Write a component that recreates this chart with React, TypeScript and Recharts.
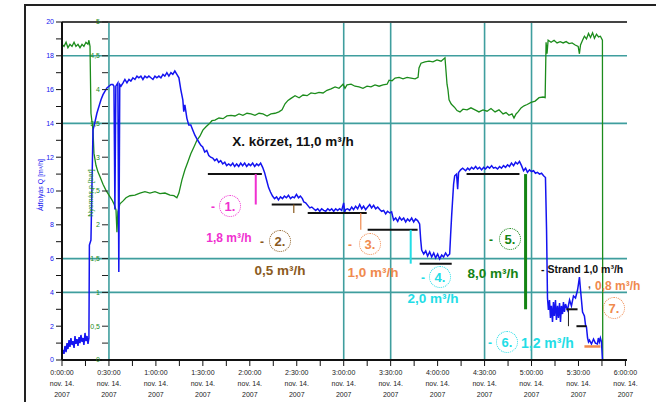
import React from 'react';
import { ComposedChart, Line, XAxis, YAxis, ReferenceLine } from 'recharts';

// átfolyás [perc, m3/h]
const flowPoints: [number, number][] = [
  [0, 0.24], [0.6, 0.59], [1.3, 0.36], [1.9, 0.83], [2.6, 0.47], [3.2, 1.0], [3.8, 0.65], [4.5, 1.18],
  [5.1, 0.77], [5.7, 1.3], [6.4, 0.89], [7.0, 1.12], [7.7, 0.71], [8.3, 1.42], [8.9, 0.95], [9.6, 1.24],
  [10.2, 0.83], [10.9, 1.36], [11.5, 1.0], [12.1, 1.48], [12.8, 1.07], [13.4, 1.3], [14.0, 0.89], [14.7, 1.6],
  [15.3, 1.12], [16.0, 1.42], [16.6, 0.95], [17.2, 1.3],
  [17.5, 6.8], [18.5, 7.1], [19.8, 13.6], [21.1, 14.1], [22.3, 14.6], [23.6, 15.0], [24.9, 15.4], [26.2, 15.7],
  [27.4, 15.9], [28.7, 16.1], [30.0, 16.2], [31.3, 16.3], [32.5, 16.3], [33.2, 16.2], [33.8, 8.9], [34.4, 16.2],
  [35.7, 16.4], [36.3, 5.2], [36.9, 16.3],
  [37.7, 16.2], [39.0, 16.4], [40.2, 16.6], [41.5, 16.4], [42.8, 16.6], [44.0, 16.5], [45.3, 16.7], [46.6, 16.6],
  [47.9, 16.8], [49.1, 16.7], [50.4, 16.8], [51.7, 16.6], [53.0, 16.8], [54.3, 16.7], [55.5, 16.8], [56.8, 16.7],
  [58.1, 16.6], [59.4, 16.8], [60.6, 16.7], [61.9, 16.8], [63.2, 16.7], [64.5, 16.9], [65.7, 16.8], [67.0, 17.0],
  [68.3, 16.8], [69.6, 17.0], [70.8, 16.9], [72.1, 17.1], [73.4, 16.9], [74.7, 16.7],
  [75.9, 16.0], [77.2, 15.4], [77.8, 14.7], [78.5, 15.1], [79.8, 14.3], [81.0, 13.9], [82.3, 13.9], [83.6, 13.6],
  [84.9, 13.3], [86.1, 13.1], [87.4, 12.9], [88.7, 12.7], [89.9, 12.6], [91.2, 12.3], [92.5, 12.4], [93.8, 12.1],
  [95.0, 12.0], [96.3, 11.95], [97.6, 11.8], [98.9, 11.9], [100.1, 11.7], [101.4, 11.8], [102.7, 11.6], [104.0, 11.7],
  [105.2, 11.5], [106.5, 11.6], [107.8, 11.5], [109.1, 11.65], [110.3, 11.45], [111.6, 11.6], [112.9, 11.45],
  [114.2, 11.65], [115.4, 11.5], [116.7, 11.65], [118.0, 11.45], [119.3, 11.6], [120.5, 11.5], [121.8, 11.65],
  [123.1, 11.45], [124.4, 11.6], [125.6, 11.5], [126.9, 11.65], [128.2, 11.4],
  [129.4, 11.1], [130.7, 10.65], [132.0, 10.2], [133.2, 9.94], [134.5, 9.7], [135.8, 9.55], [137.1, 9.65],
  [138.3, 9.47], [139.6, 9.65], [140.9, 9.55], [142.1, 9.7], [143.4, 9.6], [144.7, 9.75], [146.0, 9.55],
  [147.2, 9.65], [148.5, 9.6], [149.8, 9.8], [151.1, 9.6], [152.3, 9.7], [153.6, 9.55],
  [154.5, 9.35], [155.7, 9.3], [157.0, 9.15], [158.3, 9.0], [159.6, 9.05], [160.8, 8.95], [162.1, 8.85],
  [163.4, 8.95], [164.7, 8.8], [165.9, 8.95], [167.2, 8.85], [168.5, 8.8], [169.8, 8.95], [171.1, 8.85],
  [172.3, 8.95], [173.6, 8.8], [174.9, 8.95], [176.1, 8.85], [177.4, 8.95], [178.7, 8.85], [180.0, 9.3],
  [180.6, 8.75], [181.2, 8.9], [182.5, 8.95], [183.8, 8.85], [185.1, 9.05], [186.3, 8.9], [187.6, 9.1],
  [188.9, 8.95], [190.2, 9.2], [191.5, 8.95], [192.7, 9.1], [194.0, 8.9], [195.3, 9.05], [196.6, 9.2],
  [197.8, 9.0], [199.1, 9.15], [200.4, 8.95], [201.7, 9.05], [203.0, 8.9], [204.2, 8.8], [205.5, 8.85],
  [206.8, 8.65], [208.0, 8.8], [209.4, 8.7], [210.6, 8.76],
  [211.3, 8.5], [211.9, 8.28], [213.2, 8.4], [214.5, 8.2], [215.7, 8.45], [217.0, 8.28], [218.3, 8.4],
  [219.6, 8.17], [220.8, 8.35], [222.1, 8.22], [223.4, 8.4], [224.7, 8.17], [225.9, 8.35], [227.2, 8.25],
  [228.5, 8.05],
  [229.2, 7.1], [229.8, 6.5], [231.1, 6.27], [232.4, 6.45], [233.6, 6.15], [234.9, 6.4], [236.2, 6.1],
  [237.5, 6.33], [238.7, 6.04], [240.0, 6.27], [241.3, 5.98], [242.6, 6.21], [243.8, 6.1], [245.1, 6.33],
  [246.4, 6.15], [247.7, 6.27],
  [248.3, 7.4], [249.0, 8.6], [249.6, 9.5], [250.2, 10.4], [250.9, 10.9], [252.1, 11.0], [252.8, 10.1],
  [253.4, 11.1], [254.7, 11.25], [256.0, 11.35], [257.9, 11.2], [259.2, 11.35], [260.4, 11.25], [261.7, 11.4],
  [263.0, 11.3], [264.3, 11.45], [265.5, 11.3], [266.8, 11.4], [268.1, 11.25], [269.4, 11.4], [270.6, 11.3],
  [271.9, 11.45], [273.2, 11.35], [274.5, 11.5], [275.7, 11.35], [277.0, 11.4], [278.3, 11.3], [279.6, 11.45],
  [280.8, 11.35], [282.1, 11.5], [283.4, 11.4], [284.7, 11.55], [285.9, 11.45], [287.2, 11.65], [288.5, 11.5],
  [289.8, 11.7], [291.0, 11.6], [292.3, 11.75], [293.6, 11.5], [294.9, 11.2], [296.2, 11.35], [297.4, 11.1],
  [298.7, 11.25], [300.0, 11.15], [301.3, 11.2], [302.5, 11.05], [303.8, 11.1], [305.1, 11.0], [306.4, 11.05],
  [307.7, 10.9], [308.9, 10.8],
  [309.6, 7.7], [310.2, 3.67], [310.8, 2.96], [311.5, 3.55], [312.1, 2.49], [312.7, 3.2], [313.4, 2.25],
  [314.0, 3.43], [314.6, 2.6], [315.3, 3.55], [315.9, 2.37], [316.6, 3.2], [317.2, 2.49], [317.9, 3.37],
  [318.5, 2.25], [319.1, 3.2], [319.8, 2.72], [320.4, 3.43], [321.0, 2.84], [321.7, 3.31], [323.0, 2.96],
  [324.3, 3.55], [325.5, 3.2], [326.8, 3.79], [328.1, 3.67], [329.4, 4.14], [330.0, 4.5], [330.6, 4.91],
  [331.3, 4.14], [331.9, 3.55], [332.6, 2.84], [333.2, 2.72], [333.8, 2.6], [334.5, 2.07], [335.1, 1.95],
  [335.8, 1.3], [336.4, 1.07], [337.0, 1.18], [338.3, 0.95], [339.6, 1.24], [340.8, 1.0], [342.1, 0.95],
  [342.7, 1.3], [343.4, 1.07], [344.0, 1.3], [344.7, 1.07], [345.3, 0],
];

// nyomás [perc, bar]
const pressurePoints: [number, number][] = [
  [0, 4.67], [1.3, 4.64], [2.6, 4.7], [3.8, 4.62], [5.1, 4.67], [6.4, 4.64], [7.7, 4.7], [8.9, 4.64],
  [10.2, 4.67], [11.5, 4.62], [12.8, 4.67], [14.0, 4.64], [15.3, 4.7], [16.6, 4.67], [17.2, 4.73], [17.9, 4.64],
  [18.5, 3.65], [19.8, 3.4], [20.4, 3.06], [21.7, 2.88], [23.0, 2.78], [24.3, 2.71], [26.2, 2.6], [28.1, 2.51],
  [30.0, 2.44], [31.9, 2.37], [33.2, 2.31], [34.5, 2.22], [35.1, 1.89], [35.7, 2.19], [37.0, 2.31], [38.9, 2.35],
  [40.9, 2.4], [43.4, 2.43], [46.6, 2.44], [49.8, 2.47], [53.0, 2.49], [56.2, 2.47], [59.4, 2.49], [62.6, 2.46],
  [65.8, 2.47], [69.0, 2.44], [71.5, 2.43], [73.4, 2.4], [74.7, 2.47], [76.6, 2.66], [78.5, 2.81], [80.4, 2.93],
  [82.3, 3.05], [84.3, 3.15], [86.2, 3.25], [88.1, 3.31], [90.0, 3.4], [92.0, 3.45], [93.9, 3.49], [95.8, 3.54],
  [97.7, 3.55], [100.3, 3.58], [102.9, 3.57], [105.4, 3.61], [108.0, 3.62], [110.5, 3.61], [113.1, 3.64],
  [115.6, 3.62], [118.2, 3.65], [120.7, 3.64], [123.3, 3.62], [125.9, 3.65], [128.4, 3.64], [131.0, 3.61],
  [133.5, 3.64], [136.1, 3.65], [138.6, 3.67], [140.6, 3.7], [142.5, 3.79], [144.4, 3.84], [146.3, 3.87],
  [148.9, 3.91], [151.5, 3.88], [154.0, 3.92], [156.6, 3.91], [159.1, 3.95], [161.7, 3.94], [164.2, 3.96],
  [166.8, 3.95], [169.3, 3.99], [171.9, 4.01], [174.5, 4.04], [177.0, 4.02], [179.6, 4.08], [180.8, 4.02],
  [182.1, 4.07], [184.7, 4.08], [187.2, 4.05], [189.8, 4.04], [192.3, 4.02], [194.9, 4.05], [197.4, 4.04],
  [200.0, 4.07], [202.6, 4.05], [205.1, 4.07], [207.7, 4.08], [209.0, 4.14], [210.9, 4.13], [212.8, 4.17],
  [215.4, 4.18], [217.9, 4.16], [220.5, 4.18], [223.0, 4.17], [225.6, 4.16], [227.5, 4.18], [228.1, 4.32],
  [229.4, 4.39], [231.9, 4.41], [234.5, 4.42], [237.0, 4.41], [239.6, 4.44], [242.2, 4.42], [244.7, 4.47],
  [245.4, 4.26], [246.0, 4.08], [246.6, 4.0], [247.3, 3.85], [248.6, 3.79], [249.8, 3.76], [251.1, 3.73],
  [252.4, 3.69], [254.3, 3.67], [256.2, 3.71], [258.8, 3.7], [261.3, 3.73], [263.9, 3.7], [266.4, 3.67],
  [269.0, 3.7], [271.6, 3.68], [274.1, 3.72], [276.7, 3.67], [279.2, 3.7], [281.8, 3.64], [283.7, 3.66],
  [285.6, 3.62], [287.5, 3.64], [288.8, 3.58], [290.1, 3.64], [291.4, 3.67], [293.3, 3.73], [295.2, 3.76],
  [297.2, 3.78], [299.7, 3.81], [302.3, 3.83], [304.8, 3.88], [307.4, 3.89], [308.7, 3.88], [309.3, 4.7],
  [309.9, 4.53], [310.6, 4.73], [312.5, 4.7], [314.4, 4.73], [316.3, 4.69], [318.3, 4.71], [320.2, 4.69],
  [322.1, 4.71], [324.0, 4.68], [325.9, 4.69], [327.9, 4.66], [329.8, 4.64], [330.6, 4.53], [331.3, 4.66],
  [332.6, 4.73], [333.8, 4.79], [335.1, 4.75], [336.4, 4.83], [337.7, 4.77], [339.0, 4.84], [340.2, 4.76],
  [341.5, 4.82], [342.8, 4.78], [344.0, 4.79], [345.3, 4.73], [345.5, 0],
];

const timeTicks = [0, 15, 30, 45, 60, 75, 90, 105, 120, 135, 150, 165, 180, 195, 210, 225, 240, 255, 270, 285, 300, 315, 330, 345, 360];
const timeMajor = [0, 30, 60, 90, 120, 150, 180, 210, 240, 270, 300, 330, 360];
const timeLabels = ['0:00:00', '0:30:00', '1:00:00', '1:30:00', '2:00:00', '2:30:00', '3:00:00', '3:30:00', '4:00:00', '4:30:00', '5:00:00', '5:30:00', '6:00:00'];
const dateLabels = ['nov. 14.', 'nov. 14.', 'nov. 14.', 'nov. 14.', 'nov. 14.', 'nov. 14.', 'nov. 14.', 'nov. 14.', 'nov. 14.', 'nov. 14.', 'nov. 14.', 'nov. 14.', 'nov. 14.'];
const yearLabels = ['2007', '2007', '2007', '2007', '2007', '2007', '2007', '2007', '2007', '2007', '2007', '2007', '2007'];

const flowTicks = [0, 1, 2, 3, 4, 5, 6, 7, 8, 9, 10, 11, 12, 13, 14, 15, 16, 17, 18, 19, 20];
const pressureTicks = [0, 0.25, 0.5, 0.75, 1, 1.25, 1.5, 1.75, 2, 2.25, 2.5, 2.75, 3, 3.25, 3.5, 3.75, 4, 4.25, 4.5, 4.75, 5];
const flowGrid = [18, 14, 6, 4];
const timeGrid = [30, 180, 210, 270, 300];

// lépcsők: [kezdet, vég, szint]
const stepLevels: [number, number, number][] = [
  [93.2, 127.7, 11.0],
  [134.0, 153.2, 9.2],
  [157.0, 194.7, 8.7],
  [195.3, 227.2, 7.7],
  [228.5, 249.0, 5.7],
  [258.5, 292.3, 11.0],
  [322.3, 329.4, 3.0],
  [328.7, 335.1, 2.0],
];
const lastStep: [number, number, number] = [333.8, 344.0, 0.8];

// különbségek: [idő, felső, alsó]
const dropMarks: [number, number, number][] = [
  [123.8, 11.0, 9.2],
  [148.1, 9.2, 8.7],
  [190.9, 8.7, 7.7],
  [222.8, 7.7, 5.7],
  [296.2, 11.0, 3.0],
  [323.6, 3.0, 2.0],
];

const BLUE = '#1414f0';
const GREEN = '#1c8c1c';
const TEAL = '#3f9e9e';
const MAGENTA = '#f030d0';
const BROWN = '#8a5a1e';
const ORANGE = '#f08a4e';
const CYAN = '#22dde6';
const DKGREEN = '#148414';
const dropColors = [MAGENTA, BROWN, ORANGE, CYAN, DKGREEN, '#222'];
const dropWidths = [2, 1.2, 1.2, 2, 3, 1];

const flowData = flowPoints.map(([t, q]) => ({ t, q }));
const pressureData = pressurePoints.map(([t, p]) => ({ t, p }));
const axisStub = [{ p: 0 }, { p: 5 }];

const font = '"Liberation Sans", Arial, sans-serif';

const TimeTick = ({ x, y, payload }: any) => {
  const i = timeMajor.indexOf(payload.value);
  if (i < 0) return <g />;
  return (
    <g fontFamily={font} fontSize={7} fill="#222" textAnchor="middle">
      <text x={x} y={y + 7}>{timeLabels[i]}</text>
      <text x={x} y={y + 18}>{dateLabels[i]}</text>
      <text x={x} y={y + 29}>{yearLabels[i]}</text>
    </g>
  );
};

const Note = ({ x, y, color, size, children, left }: any) => (
  <div
    style={{
      position: 'absolute',
      left: x,
      top: y,
      transform: left ? 'translate(0,-50%)' : 'translate(-50%,-50%)',
      color,
      fontSize: size,
      fontWeight: 'bold',
      fontFamily: font,
      whiteSpace: 'nowrap',
      lineHeight: 1,
    }}
  >
    {children}
  </div>
);

const Circled = ({ x, y, color, label, dash }: any) => (
  <>
    {dash && <Note x={dash} y={y + 1} color={color} size={12}>-</Note>}
    <div
      style={{
        position: 'absolute',
        left: x - 11,
        top: y - 11,
        width: 20,
        height: 20,
        borderRadius: '50%',
        border: `1.5px dotted ${color}`,
        color,
        fontFamily: font,
        fontSize: 13,
        fontWeight: 600,
        display: 'flex',
        alignItems: 'center',
        justifyContent: 'center',
      }}
    >
      {label}
    </div>
  </>
);

export default function App() {
  return (
    <div style={{ position: 'absolute', left: 0, top: 0, width: 656, height: 402, overflow: 'hidden', background: '#fff' }}>
      {/* külső keret */}
      <div style={{ position: 'absolute', left: 25, top: 4, width: 640, height: 2, background: '#222' }} />
      <div style={{ position: 'absolute', left: 24, top: 4, width: 2, height: 400, background: '#222' }} />

      <div style={{ position: 'absolute', left: 0, top: 0 }}>
        <ComposedChart width={656} height={402} margin={{ top: 22, right: 29, bottom: 2, left: 0 }}>
          <XAxis
            dataKey="t"
            type="number"
            domain={[0, 361]}
            allowDataOverflow
            ticks={timeTicks}
            tick={<TimeTick />}
            tickSize={6}
            tickMargin={2}
            height={40}
            interval={0}
            axisLine={{ stroke: '#111', strokeWidth: 2 }}
            tickLine={{ stroke: '#111' }}
          />
          <YAxis
            yAxisId="q"
            type="number"
            domain={[0, 20]}
            ticks={flowTicks}
            interval={0}
            width={62}
            tickSize={6}
            tickFormatter={(v: number) => (v % 2 === 0 ? String(v) : '')}
            tick={{ fontSize: 7, fill: BLUE, fontFamily: font }}
            axisLine={{ stroke: '#111', strokeWidth: 2 }}
            tickLine={{ stroke: '#111' }}
          />
          <YAxis yAxisId="p" type="number" domain={[0, 5]} orientation="right" width={0} hide />

          {flowGrid.map((v) => (
            <ReferenceLine key={`h${v}`} yAxisId="q" y={v} stroke={TEAL} strokeWidth={1.6} />
          ))}
          {timeGrid.map((v) => (
            <ReferenceLine key={`v${v}`} yAxisId="q" x={v} stroke={TEAL} strokeWidth={1.6} />
          ))}
          <ReferenceLine yAxisId="q" y={20} stroke="#444" strokeWidth={2} />

          <Line
            yAxisId="p"
            data={pressureData}
            dataKey="p"
            stroke={GREEN}
            strokeWidth={1.3}
            dot={false}
            isAnimationActive={false}
          />
          <Line
            yAxisId="q"
            data={flowData}
            dataKey="q"
            stroke={BLUE}
            strokeWidth={1.5}
            dot={false}
            isAnimationActive={false}
          />

          {stepLevels.map(([a, b, q], i) => (
            <ReferenceLine
              key={`s${i}`}
              yAxisId="q"
              segment={[{ x: a, y: q }, { x: b, y: q }]}
              stroke="#111"
              strokeWidth={2}
            />
          ))}
          <ReferenceLine
            yAxisId="q"
            segment={[{ x: lastStep[0], y: lastStep[2] }, { x: lastStep[1], y: lastStep[2] }]}
            stroke={ORANGE}
            strokeWidth={2.5}
          />
          {dropMarks.map(([t, hi, lo], i) => (
            <ReferenceLine
              key={`d${i}`}
              yAxisId="q"
              segment={[{ x: t, y: hi }, { x: t, y: lo }]}
              stroke={dropColors[i]}
              strokeWidth={dropWidths[i]}
            />
          ))}
        </ComposedChart>
      </div>

      {/* nyomás tengely a belső vonalon */}
      <div style={{ position: 'absolute', left: 0, top: 0 }}>
        <ComposedChart width={656} height={402} data={axisStub} margin={{ top: 22, right: 29, bottom: 42, left: 68 }}>
          <XAxis hide />
          <YAxis
            yAxisId="p"
            type="number"
            domain={[0, 5]}
            ticks={pressureTicks}
            interval={0}
            width={40}
            tickSize={6}
            tickFormatter={(v: number) => (v % 0.5 === 0 ? String(v).replace('.', ',') : '')}
            tick={{ fontSize: 7, fill: GREEN, fontFamily: font }}
            axisLine={false}
            tickLine={{ stroke: '#222' }}
          />
          <Line yAxisId="p" dataKey="p" stroke="none" dot={false} isAnimationActive={false} />
        </ComposedChart>
      </div>

      {/* tengelyfeliratok */}
      <div style={{ position: 'absolute', left: 40, top: 185, transform: 'translate(-50%,-50%) rotate(-90deg)', color: BLUE, fontSize: 7, fontFamily: font, whiteSpace: 'nowrap' }}>
        Átfolyás Q [m³/h]
      </div>
      <div style={{ position: 'absolute', left: 90, top: 193, transform: 'translate(-50%,-50%) rotate(-90deg)', color: GREEN, fontSize: 7, fontFamily: font, whiteSpace: 'nowrap' }}>
        Nyomás p [bar]
      </div>

      {/* megjegyzések */}
      <Note x={293} y={142} color="#111" size={13.5}>X. körzet, 11,0 m³/h</Note>
      <Note x={229} y={238} color={MAGENTA} size={12}>1,8 m³/h</Note>
      <Note x={280} y={271} color={BROWN} size={13.5}>0,5 m³/h</Note>
      <Note x={373} y={273} color={ORANGE} size={13.5}>1,0 m³/h</Note>
      <Note x={433} y={299} color={CYAN} size={13.5}>2,0 m³/h</Note>
      <Note x={493} y={274} color={DKGREEN} size={13.5}>8,0 m³/h</Note>
      <Note x={541} y={269} color="#111" size={10.5} left>- Strand 1,0 m³/h</Note>
      <Note x={588} y={285} color="#555" size={10} left>,</Note>
      <Note x={595} y={286} color={ORANGE} size={12} left>0,8 m³/h</Note>
      <Note x={521} y={343} color={CYAN} size={14} left>1,2 m³/h</Note>

      <Circled x={230} y={206} color={MAGENTA} label="1." dash={213} />
      <Circled x={280} y={241} color={BROWN} label="2." dash={262} />
      <Circled x={370} y={244} color={ORANGE} label="3." dash={350} />
      <Circled x={440} y={277} color={CYAN} label="4." dash={423} />
      <Circled x={510} y={239} color={DKGREEN} label="5." dash={491} />
      <Circled x={507} y={342} color={CYAN} label="6." dash={490} />
      <Circled x={614} y={308} color={ORANGE} label="7." />
    </div>
  );
}
